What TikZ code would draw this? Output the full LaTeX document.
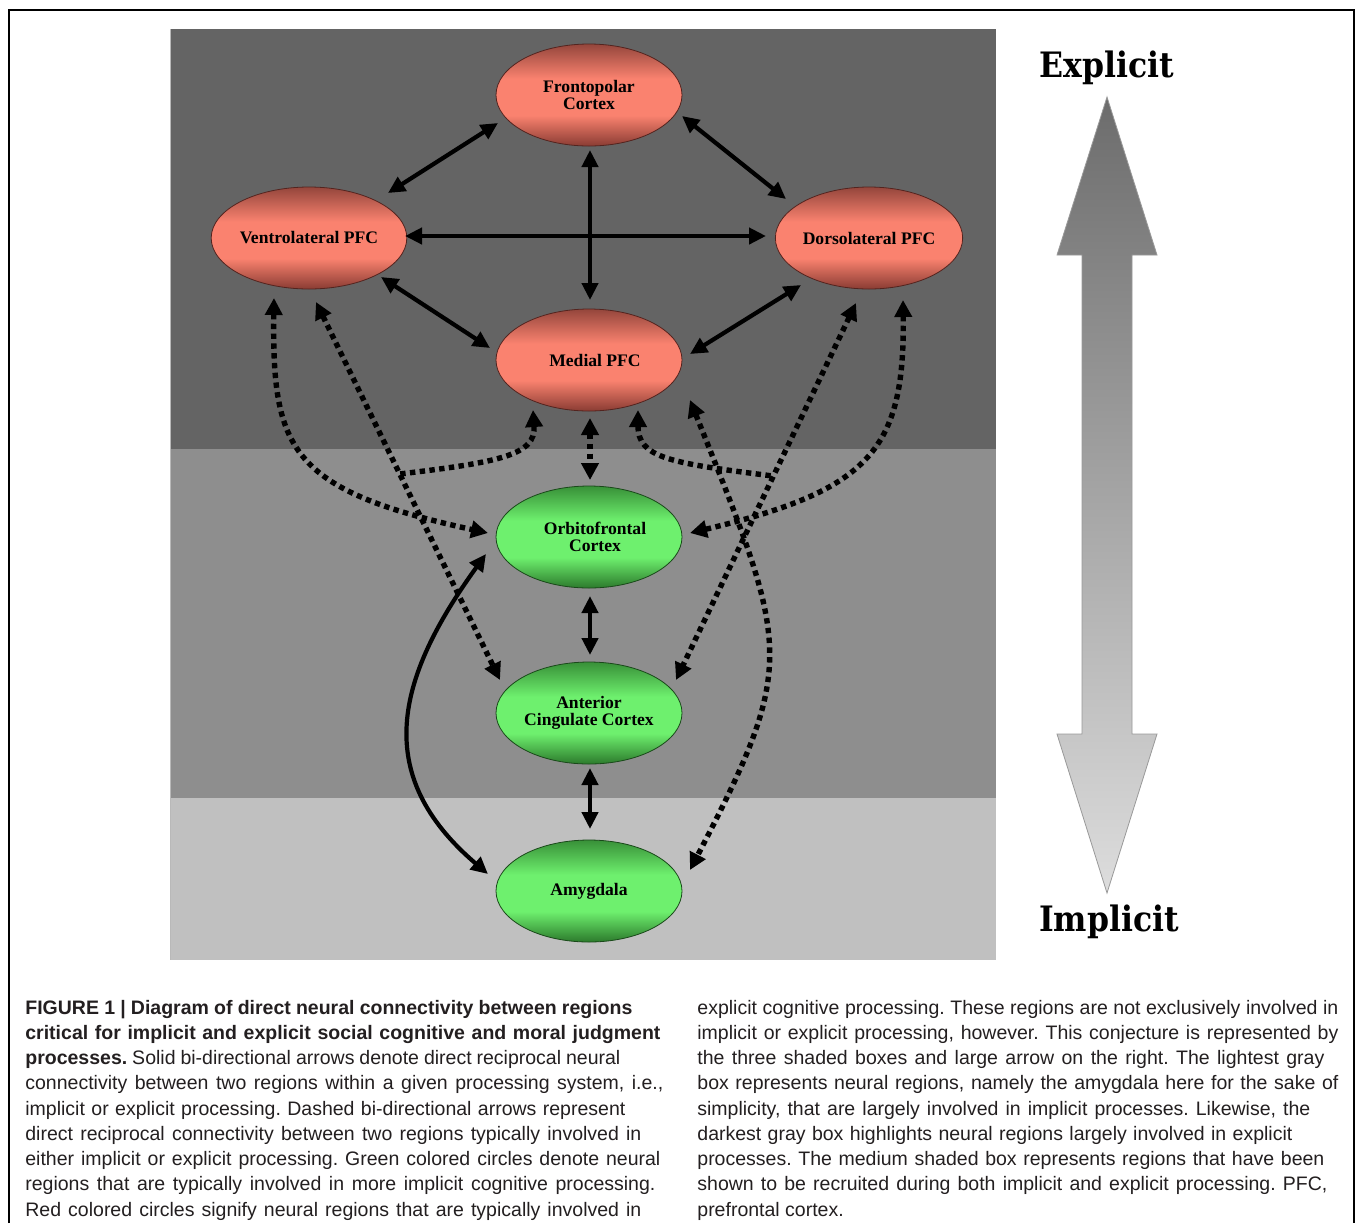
\documentclass[tikz,border=0pt]{standalone}
\usepackage{fontspec}
\setmainfont{Liberation Serif}
\newfontfamily\capfont{Liberation Sans}
\newfontfamily\bigfont[FakeStretch=0.9]{DejaVu Serif}
\usetikzlibrary{arrows.meta,shapes.geometric,calc}
\frenchspacing

\definecolor{pdark}{HTML}{646464}
\definecolor{pmid}{HTML}{8E8E8E}
\definecolor{plight}{HTML}{C0C0C0}
\definecolor{rdark}{HTML}{8A3C33}
\definecolor{rtop}{HTML}{94463C}
\definecolor{rlight}{HTML}{FA826F}
\definecolor{gtop}{HTML}{389038}
\definecolor{gdark}{HTML}{2C7A2C}
\definecolor{glight}{HTML}{6EF06E}
\definecolor{captext}{HTML}{231F20}
\definecolor{arrtop}{HTML}{6C6C6C}
\definecolor{arrbot}{HTML}{DDDDDD}

\pgfdeclareverticalshading{redshade}{100bp}{color(0bp)=(rdark); color(25bp)=(rdark); color(40bp)=(rlight); color(58bp)=(rlight); color(75bp)=(rtop); color(100bp)=(rtop)}
\pgfdeclareverticalshading{greenshade}{100bp}{color(0bp)=(gdark); color(25bp)=(gdark); color(40bp)=(glight); color(58bp)=(glight); color(75bp)=(gtop); color(100bp)=(gtop)}

\newcommand\capl[5]{\node[capstyle] (#1) at (#2,#3) {\makebox[#4pt][s]{#5}};}

\tikzset{
  region/.style={ellipse, draw=#1, line width=0.4pt, minimum width=93pt, minimum height=51pt,
    inner sep=0pt, align=center, font=\bfseries\fontsize{8.8}{8.8}\selectfont},
  redreg/.style={region=rdark!60!black, shading=redshade},
  greenreg/.style={region=gdark!60!black, shading=greenshade},
  solidarr/.style={line width=2.1pt, {Triangle[length=8.5pt,width=8pt]}-{Triangle[length=8.5pt,width=8pt]}},
  dotarr/.style={line width=2.7pt, dash pattern=on 2.7pt off 2.2pt, {Triangle[length=8.5pt,width=8.5pt]}-{Triangle[length=8.5pt,width=8.5pt]}},
  dotline/.style={line width=2.7pt, dash pattern=on 2.7pt off 2.2pt, {Triangle[length=8.5pt,width=8.5pt]}-},
  capstyle/.style={anchor=base west, inner sep=0pt, text=captext, font=\capfont\fontsize{9.75}{11}\selectfont},
  bigword/.style={font=\bigfont\bfseries\fontsize{17.5}{17.5}\selectfont, inner sep=0pt}
}

\begin{document}
\begin{tikzpicture}[x=0.5pt,y=-0.5pt]
\useasboundingbox (0,0) rectangle (1355,1223);
\fill[white] (0,0) rectangle (1355,1223);
% frame
\draw[line width=1pt] (9,1223) -- (9,10) -- (1354,10) -- (1354,1223);
% shaded boxes
\fill[pdark] (170,29) rectangle (996,449);
\fill[pmid] (170,449) rectangle (996,798);
\fill[plight] (170,798) rectangle (996,960);
\draw[gray!55, line width=0.5pt] (170,29) -- (170,960);

% regions
\node[redreg] (fp) at (589,95) {Frontopolar\\Cortex};
\node[redreg] (vl) at (309,238) {Ventrolateral PFC};
\node[redreg] (dl) at (869,238) {Dorsolateral PFC};
\node[redreg] (mp) at (589,360) {\hspace*{6pt}Medial PFC};
\node[greenreg] (of) at (589,537) {\hspace*{6pt}Orbitofrontal\\\hspace*{6pt}Cortex};
\node[greenreg] (ac) at (589,713) {Anterior\\Cingulate Cortex};
\node[greenreg] (am) at (589,891) {Amygdala};

% solid connections
\draw[solidarr] ($(fp)+(-91,28)$) -- ($(vl)+(79,-45)$);
\draw[solidarr] ($(fp)+(93,21)$) -- ($(dl)+(-83,-39)$);
\draw[solidarr] ($(vl)+(96,-2)$) -- ($(dl)+(-103,-2)$);
\draw[solidarr] ($(fp)+(1,55)$) -- ($(mp)+(1,-60)$);
\draw[solidarr] ($(vl)+(72,39)$) -- ($(mp)+(-99,-12)$);
\draw[solidarr] ($(dl)+(-68,47)$) -- ($(mp)+(101,-6)$);
\draw[solidarr] ($(of)+(1,59)$) -- ($(ac)+(1,-58)$);
\draw[solidarr] ($(ac)+(1,55)$) -- ($(am)+(1,-62)$);
\draw[solidarr] ($(of)+(-103,17)$) .. controls ($(of)+(-194,143)$) and ($(am)+(-217,-116)$) .. ($(am)+(-101,-17)$);

% dashed connections
\coordinate (bs) at ($(vl)+(7,64)$);
\coordinate (be) at ($(ac)+(-89,-33)$);
\coordinate (jl) at ($(bs)!0.455!(be)$);
\coordinate (ds) at ($(dl)+(-13,65)$);
\coordinate (de) at ($(ac)+(87,-33)$);
\coordinate (jr) at ($(ds)!0.459!(de)$);

\draw[dotarr] ($(mp)+(1,58)$) -- ($(of)+(1,-57)$);
\draw[dotarr] ($(vl)+(-35,60)$) .. controls ($(vl)+(-37,212)$) and ($(of)+(-299,-47)$) .. ($(of)+(-101,-4)$);
\draw[dotarr] (bs) -- (be);
\draw[dotline] ($(mp)+(-56,50)$) .. controls ($(mp)+(-53,95)$) and ($(mp)+(-89,102)$) .. (jl);
\draw[dotarr] (ds) -- (de);
\draw[dotline] ($(mp)+(49,50)$) .. controls ($(mp)+(49,98)$) and ($(mp)+(81,103)$) .. (jr);
\draw[dotarr] ($(dl)+(34,62)$) .. controls ($(dl)+(36,212)$) and ($(of)+(281,-47)$) .. ($(of)+(101,-4)$);
\draw[dotarr] ($(mp)+(101,40)$) .. controls ($(mp)+(200.5,288.7)$) and ($(am)+(209.5,-229.7)$) .. ($(am)+(101,-21)$);

% big arrow
\shade[top color=arrtop, bottom color=arrbot, draw=gray!80, line width=0.4pt]
  (1107,97) -- (1157,255) -- (1132,255) -- (1132,734) -- (1157,734) -- (1107,893)
  -- (1057,734) -- (1082,734) -- (1082,255) -- (1057,255) -- cycle;
\node[bigword] (expl) at (1107,68) {Explicit};
\node[bigword] (impl) at (1109,922) {Implicit};

% caption
\capl{l1}{25}{1014}{303.5}{\textbf{FIGURE 1 | Diagram of direct neural connectivity between regions}}
\capl{l2}{25}{1039.25}{317.5}{\textbf{critical for implicit and explicit social cognitive and moral judgment}}
\capl{l3}{25}{1064.5}{297.5}{\textbf{processes.} Solid bi-directional arrows denote direct reciprocal neural}
\capl{l4}{25}{1089.75}{319}{connectivity between two regions within a given processing system, i.e.,}
\capl{l5}{25}{1115}{300}{implicit or explicit processing. Dashed bi-directional arrows represent}
\capl{l6}{25}{1140.25}{308}{direct reciprocal connectivity between two regions typically involved in}
\capl{l7}{25}{1165.5}{317.5}{either implicit or explicit processing. Green colored circles denote neural}
\capl{l8}{25}{1190.75}{315}{regions that are typically involved in more implicit cognitive processing.}
\capl{l9}{25}{1216}{308}{Red colored circles signify neural regions that are typically involved in}

\capl{r1}{697}{1014}{320.5}{explicit cognitive processing. These regions are not exclusively involved in}
\capl{r2}{697}{1039.25}{320.5}{implicit or explicit processing, however. This conjecture is represented by}
\capl{r3}{697}{1064.5}{313.5}{the three shaded boxes and large arrow on the right. The lightest gray}
\capl{r4}{697}{1089.75}{320.5}{box represents neural regions, namely the amygdala here for the sake of}
\capl{r5}{697}{1115}{306.5}{simplicity, that are largely involved in implicit processes. Likewise, the}
\capl{r6}{697}{1140.25}{297.5}{darkest gray box highlights neural regions largely involved in explicit}
\capl{r7}{697}{1165.5}{313.5}{processes. The medium shaded box represents regions that have been}
\capl{r8}{697}{1190.75}{315}{shown to be recruited during both implicit and explicit processing. PFC,}
\node[capstyle] (r9) at (697,1216) {prefrontal cortex.};
\end{tikzpicture}
\end{document}
